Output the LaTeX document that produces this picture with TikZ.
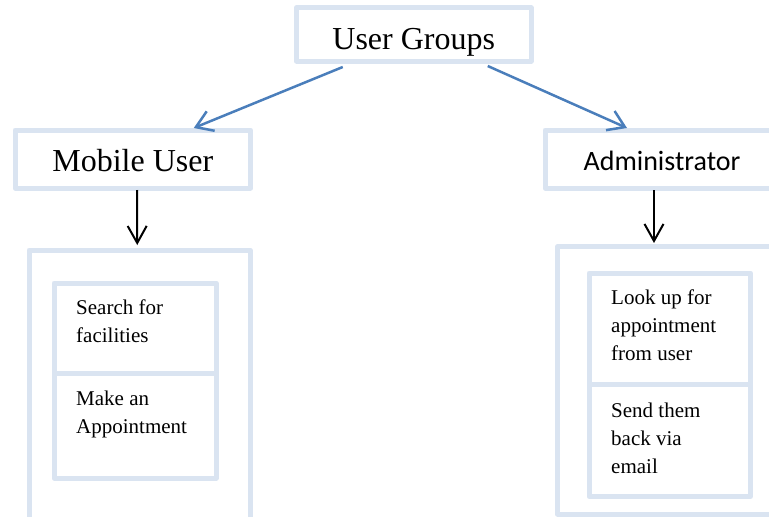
\documentclass[tikz,border=0pt]{standalone}
\usepackage{fontspec}
\setmainfont{Liberation Serif}
\newfontfamily\calibrifont{Carlito}
\usetikzlibrary{arrows.meta}

\definecolor{boxline}{HTML}{DAE4F1}
\definecolor{linkblue}{HTML}{4A7EBB}

% lines of a task, with the first line's baseline as the reference point
\newcommand{\tasklines}[1]{\begin{tabular}[t]{@{}l@{}}#1\end{tabular}}

\tikzset{
  frame/.style={draw=boxline, line width=5pt, line join=round,
                inner sep=0pt, outer sep=0pt},
  tasktext/.style={anchor=base west, inner sep=0pt,
                   font=\fontsize{21}{28}\selectfont},
  bluelink/.style={draw=linkblue, line width=2.5pt,
                   -{Straight Barb[length=16pt,width=21pt]}},
  downlink/.style={draw=black, line width=2pt,
                   -{Straight Barb[length=17pt,width=19pt]}},
}

\begin{document}
\begin{tikzpicture}[x=1pt,y=-1pt]
\useasboundingbox (0,0) rectangle (769,517);
\clip (0,0) rectangle (769,517);

% top level
\node[frame, minimum width=234.5pt, minimum height=53.3pt,
      font=\fontsize{32}{38}\selectfont, text height=29.4pt, text depth=0pt]
  (groups) at (413.75,34.35) {User Groups};

% user groups
\node[frame, minimum width=235.5pt, minimum height=58pt,
      font=\fontsize{32}{38}\selectfont, text height=25.4pt, text depth=0pt]
  (mobile) at (132.75,159) {Mobile User};
\node[frame, minimum width=234pt, minimum height=58pt,
      font=\calibrifont\fontsize{28}{34}\selectfont, text height=23.4pt, text depth=0pt]
  (admin) at (662,159) {Administrator};

% task containers
\node[frame, minimum width=221pt, minimum height=280pt] (mobiletasks) at (139.5,390) {};
\node[frame, minimum width=221pt, minimum height=267.3pt] (admintasks) at (668,380.35) {};

% mobile user tasks
\node[frame, minimum width=162pt, minimum height=90pt] (search) at (135,328) {};
\node[frame, minimum width=162pt, minimum height=105pt] (appoint) at (135,425.5) {};
\node[tasktext] (searchtxt) at ([xshift=22pt,yshift=-31pt]search.north west)
  {\tasklines{Search for\\facilities}};
\node[tasktext] (appointtxt) at ([xshift=22pt,yshift=-32pt]appoint.north west)
  {\tasklines{Make an\\Appointment}};

% administrator tasks
\node[frame, minimum width=161.5pt, minimum height=111.5pt] (lookup) at (669.75,328.75) {};
\node[frame, minimum width=161.5pt, minimum height=112pt] (sendback) at (669.75,440.5) {};
\node[tasktext] (lookuptxt) at ([xshift=22pt,yshift=-31pt]lookup.north west)
  {\tasklines{Look up for\\appointment\\from user}};
\node[tasktext] (sendbacktxt) at ([xshift=22pt,yshift=-32.5pt]sendback.north west)
  {\tasklines{Send them\\back via\\email}};

% connectors
\draw[bluelink] ([xshift=-71pt,yshift=-6pt]groups.south) -- ([xshift=61pt,yshift=2pt]mobile.north);
\draw[bluelink] ([xshift=74pt,yshift=-5pt]groups.south) -- ([xshift=-35pt,yshift=2pt]admin.north);
\draw[downlink] ([xshift=4.25pt,yshift=-2pt]mobile.south) -- ([xshift=-2.25pt,yshift=5pt]mobiletasks.north);
\draw[downlink] ([xshift=-8pt,yshift=-2pt]admin.south) -- ([xshift=-14pt,yshift=3.7pt]admintasks.north);
\end{tikzpicture}
\end{document}
